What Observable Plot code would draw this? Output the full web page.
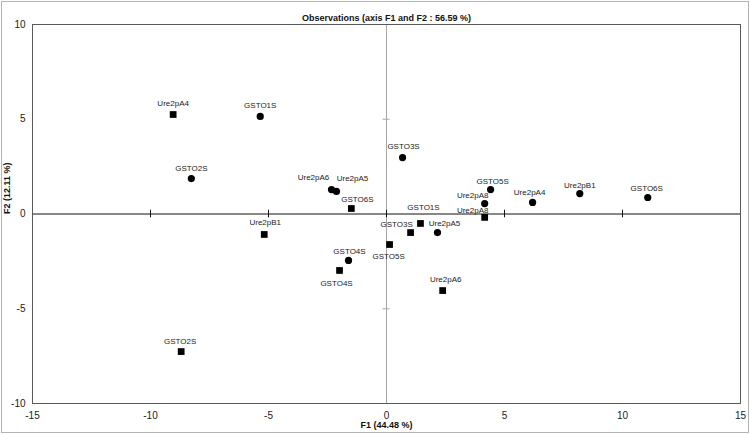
<!DOCTYPE html>
<html>
<head>
<meta charset="utf-8">
<script src="https://cdn.jsdelivr.net/npm/d3@7"></script>
<script src="https://cdn.jsdelivr.net/npm/@observablehq/plot@0.6"></script>
<style>
  html, body { margin: 0; padding: 0; background: white; }
  #chart svg { display: block; outline: 1px solid #b4b4b4; outline-offset: -2px; }
</style>
</head>
<body>
<div id="chart"></div>
<script>
// Circle observations
const circleNames = ["GSTO1S", "GSTO2S", "GSTO3S", "GSTO4S", "GSTO5S", "GSTO6S", "Ure2pA4", "Ure2pA5", "Ure2pA6", "Ure2pA5", "Ure2pA8", "Ure2pB1"];
const circleF1 = [-5.35, -8.27, 0.68, -1.61, 4.41, 11.07, 6.19, -2.12, -2.33, 2.16, 4.16, 8.19];
const circleF2 = [5.15, 1.87, 2.98, -2.45, 1.29, 0.87, 0.61, 1.19, 1.29, -0.98, 0.55, 1.08];
// label nudges (px) for circles
const circleLabelDx = [0, 0, 1, 1, 2, -1, -3, 16, -18, 7, -12, 0];
const circleLabelDy = [-11, -10, -11, -9, -8, -9, -10, -13, -12, -9, -8, -8];

// Square observations
const squareNames = ["Ure2pA4", "GSTO6S", "Ure2pB1", "GSTO4S", "GSTO2S", "GSTO5S", "GSTO3S", "GSTO1S", "Ure2pA8", "Ure2pA6"];
const squareF1 = [-9.04, -1.49, -5.18, -1.99, -8.70, 0.13, 1.02, 1.44, 4.16, 2.38];
const squareF2 = [5.25, 0.29, -1.08, -2.98, -7.26, -1.61, -0.98, -0.50, -0.18, -4.04];
const squareLabelDx = [0, 6, 1, -3, -1, -1, -14, 3, -12, 3];
const squareLabelDy = [-11, -9, -12, 13, -10, 12, -8, -16, -7, -11];

const xTicks = [-15, -10, -5, 0, 5, 10, 15];
const yTicks = [-10, -5, 0, 5, 10];
const axisTickMarks = [-10, -5, 0, 5, 10];
const vAxisTickMarks = [-5, 5];

const title = "Observations (axis F1 and F2 : 56.59 %)";
const xTitle = "F1 (44.48 %)";
const yTitle = "F2 (12.11 %)";

const circles = circleNames.map((name, i) => ({name, f1: circleF1[i], f2: circleF2[i], dx: circleLabelDx[i], dy: circleLabelDy[i]}));
const squares = squareNames.map((name, i) => ({name, f1: squareF1[i], f2: squareF2[i], dx: squareLabelDx[i], dy: squareLabelDy[i]}));

const labelFont = "Liberation Sans, Arial, sans-serif";
const labels = [...circles, ...squares].map(d =>
  Plot.text([d], {x: "f1", y: "f2", text: "name", dx: d.dx, dy: d.dy, fontSize: 8, fill: "#222"})
);

const chart = Plot.plot({
  width: 750,
  height: 434,
  marginLeft: 32,
  marginRight: 10,
  marginTop: 24,
  marginBottom: 31,
  style: {fontFamily: labelFont, fontSize: "10px", background: "white", color: "#222"},
  x: {domain: [-15, 15], ticks: xTicks, tickSize: 0, tickPadding: 8, label: null, tickFormat: d => String(d)},
  y: {domain: [-10, 10], ticks: yTicks, tickSize: 0, tickPadding: 7, label: null, tickFormat: d => String(d)},
  marks: [
    Plot.ruleX([0], {stroke: "#a6a6a6", strokeWidth: 1}),
    Plot.ruleY(vAxisTickMarks, {x1: -0.15, x2: 0.15, stroke: "#a6a6a6"}),
    Plot.ruleY([0], {stroke: "#111", strokeWidth: 1}),
    Plot.ruleX(axisTickMarks, {y1: -0.2, y2: 0.2, stroke: "#111"}),
    Plot.frame({stroke: "#595959"}),
    Plot.dot(circles, {x: "f1", y: "f2", r: 3.6, fill: "black", symbol: "circle"}),
    Plot.dot(squares, {x: "f1", y: "f2", r: 3.8, fill: "black", symbol: "square"}),
    ...labels,
    Plot.text([title], {text: d => d, frameAnchor: "top", dy: -10, fontWeight: "bold", fontSize: 9, fill: "#111"}),
    Plot.text([xTitle], {text: d => d, frameAnchor: "bottom", dy: 24, fontWeight: "bold", fontSize: 9, fill: "#111"}),
    Plot.text([yTitle], {text: d => d, frameAnchor: "left", dx: -25, rotate: -90, fontWeight: "bold", fontSize: 9, fill: "#111"})
  ]
});
document.getElementById("chart").appendChild(chart);
</script>
</body>
</html>
